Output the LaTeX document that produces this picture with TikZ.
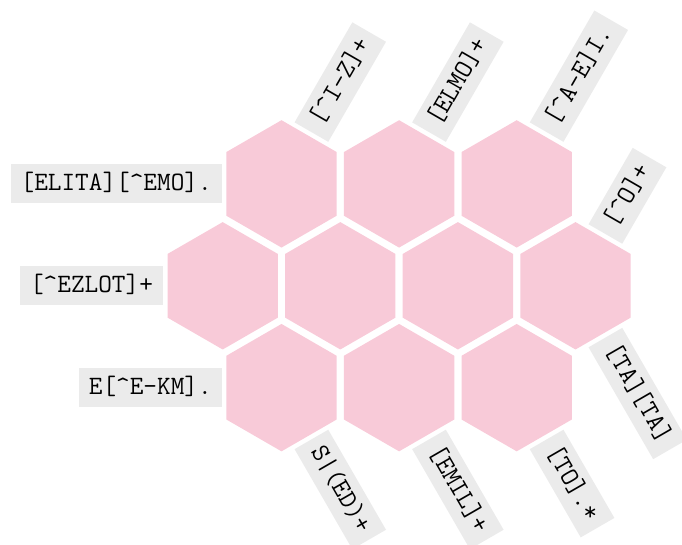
\documentclass[tikz,border=0pt]{standalone}
\usepackage{fontspec}
\usetikzlibrary{shapes.geometric,calc}
\definecolor{hexpink}{RGB}{248,202,216}
\definecolor{labgray}{RGB}{235,235,235}
\begin{document}
\begin{tikzpicture}[x=1pt,y=1pt,
  hexcell/.style={regular polygon, regular polygon sides=6, shape border rotate=30,
    minimum size=127.4pt, inner sep=0pt, outer sep=0pt, fill=hexpink},
  lab/.style={fill=labgray, inner xsep=10pt, inner ysep=6.2pt, text height=19.9pt,
    text depth=6.6pt, font=\fontsize{26.5}{30}\selectfont\ttfamily}]
\useasboundingbox (0,0) rectangle (682,545);
% hexagons
\node[hexcell] (h11) at (281.5,361.1) {};
\node[hexcell] (h12) at (399.1,361.1) {};
\node[hexcell] (h13) at (516.7,361.1) {};
\node[hexcell] (h21) at (222.7,259.2) {};
\node[hexcell] (h22) at (340.3,259.2) {};
\node[hexcell] (h23) at (457.9,259.2) {};
\node[hexcell] (h24) at (575.5,259.2) {};
\node[hexcell] (h31) at (281.5,157.35) {};
\node[hexcell] (h32) at (399.1,157.35) {};
\node[hexcell] (h33) at (516.7,157.35) {};
% horizontal labels
\node[lab,anchor=east] (lA) at ($(h11.center)+(-59.6pt,0pt)$) {[ELITA][\textasciicircum EMO].};
\node[lab,anchor=east] (lB) at ($(h21.center)+(-59.6pt,0pt)$) {[\textasciicircum EZLOT]+};
\node[lab,anchor=east] (lC) at ($(h31.center)+(-59.6pt,0pt)$) {E[\textasciicircum E-KM].};
% upper diagonal labels
\node[lab,anchor=west,rotate=60] (lD) at ($(h11.center)+(60:59.6pt)$) {[\textasciicircum I-Z]+};
\node[lab,anchor=west,rotate=60] (lE) at ($(h12.center)+(60:59.6pt)$) {[ELMO]+};
\node[lab,anchor=west,rotate=60] (lF) at ($(h13.center)+(60:59.6pt)$) {[\textasciicircum A-E]I.};
\node[lab,anchor=west,rotate=60] (lG) at ($(h24.center)+(60:59.6pt)$) {[\textasciicircum O]+};
% lower diagonal labels
\node[lab,anchor=west,rotate=-60] (lH) at ($(h24.center)+(-60:59.6pt)$) {[TA][TA]};
\node[lab,anchor=west,rotate=-60] (lI) at ($(h31.center)+(-60:59.6pt)$) {S|(ED)+};
\node[lab,anchor=west,rotate=-60] (lJ) at ($(h32.center)+(-60:59.6pt)$) {[EMIL]+};
\node[lab,anchor=west,rotate=-60] (lK) at ($(h33.center)+(-60:59.6pt)$) {[TO].*};
\end{tikzpicture}
\end{document}
